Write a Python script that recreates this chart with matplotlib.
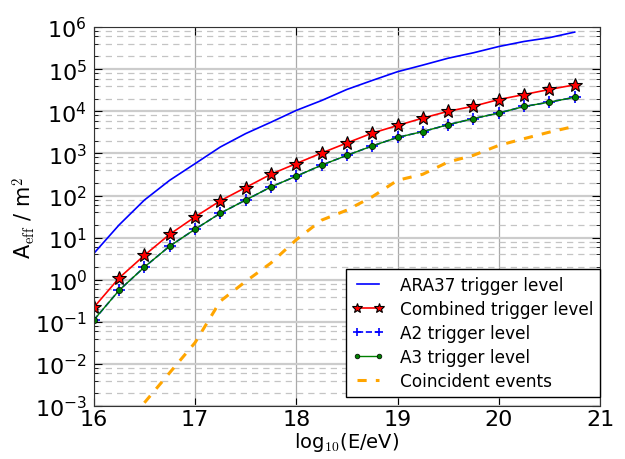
"""
Effective area vs energy, ARA trigger levels
"""
import matplotlib
matplotlib.use("Agg")
import matplotlib.pyplot as plt
from matplotlib.ticker import LogLocator, NullFormatter

plt.rcParams["font.family"] = ["DejaVu Sans"]
plt.rcParams["mathtext.fontset"] = "cm"

# energy bins, log10(E/eV)
log_e = [16.0, 16.25, 16.5, 16.75, 17.0, 17.25, 17.5, 17.75, 18.0, 18.25,
         18.5, 18.75, 19.0, 19.25, 19.5, 19.75, 20.0, 20.25, 20.5, 20.75]

ara37 = [4.2, 20, 78, 230, 570, 1420, 2950, 5500, 10500, 18000,
         33000, 54000, 87000, 125000, 182000, 245000, 345000, 455000, 560000, 760000]
combined = [0.22, 1.1, 3.8, 12, 31, 75, 155, 320, 575, 1020,
            1770, 3030, 4600, 6900, 10000, 13200, 19000, 25000, 33000, 42500]
a2 = [0.11, 0.56, 2.0, 6.3, 15.8, 38, 78, 160, 288, 525,
      900, 1500, 2400, 3300, 4800, 6700, 9100, 13000, 16500, 21500]
a3 = [0.11, 0.56, 2.0, 6.3, 15.8, 38, 78, 160, 288, 525,
      900, 1500, 2400, 3300, 4800, 6700, 9100, 13000, 16500, 21500]

# coincident events start at 16.5
log_e_coinc = [16.5, 16.75, 17.0, 17.25, 17.5, 17.75, 18.0, 18.25, 18.5, 18.75,
               19.0, 19.25, 19.5, 19.75, 20.0, 20.25, 20.5, 20.75]
coincident = [0.0012, 0.0062, 0.032, 0.31, 0.91, 2.5, 8.9, 26, 45, 93,
              230, 320, 625, 900, 1550, 2240, 3200, 4400]

fig = plt.figure(figsize=(6.25, 4.6), dpi=100)
ax = fig.add_axes([0.150, 0.115, 0.810, 0.824])

ax.plot(log_e, ara37, color="blue", lw=1.2, label="ARA37 trigger level")
ax.plot(log_e, combined, color="red", lw=1.2, marker="*", ms=10,
        mfc="red", mec="black", mew=0.8, label="Combined trigger level")
ax.plot(log_e, a2, color="blue", lw=1.2, ls="--", marker="+", ms=8,
        mew=1.2, label="A2 trigger level")
ax.plot(log_e, a3, color="green", lw=1.0, marker="o", ms=4.5,
        mfc="green", mec="black", mew=0.5, label="A3 trigger level")
ax.plot(log_e_coinc, coincident, color="orange", lw=2.2, ls="--",
        dashes=(3, 3), label="Coincident events")

ax.set_yscale("log")
ax.set_xlim(16, 21)
ax.set_ylim(1e-3, 1e6)
ax.set_xticks([16, 17, 18, 19, 20, 21])
ax.yaxis.set_major_locator(LogLocator(base=10, numticks=20))
ax.yaxis.set_minor_locator(LogLocator(base=10, subs=(2, 4, 6, 8), numticks=20))
ax.yaxis.set_minor_formatter(NullFormatter())

ax.grid(True, which="major", axis="x", color="#aaaaaa", lw=0.9, ls="-")
ax.grid(True, which="major", axis="y", color="#cccccc", lw=1.6, ls="-")
ax.grid(True, which="minor", axis="y", color="#c4c4c4", lw=0.9, ls="--",
        dashes=(5, 4))
ax.set_axisbelow(True)

ax.tick_params(which="both", direction="in", top=True, right=True,
               labelsize=16)
ax.tick_params(axis="x", pad=2)
ax.tick_params(axis="y", pad=5)
ax.tick_params(which="major", length=6)
ax.tick_params(which="minor", length=3)
for sp in ax.spines.values():
    sp.set_color("#333333")

ax.set_xlabel(r"log$_{\mathrm{10}}$(E/eV)", fontsize=14, labelpad=1)
ax.set_ylabel(r"A$_{\rm eff}$ / m$^{2}$", fontsize=15, labelpad=-2)

leg = ax.legend(loc="lower right", bbox_to_anchor=(1.0, 0.024),
                borderaxespad=0, fontsize=12.2, fancybox=False,
                framealpha=1, edgecolor="black", handlelength=1.9,
                handletextpad=0.9, labelspacing=0.36, numpoints=2,
                markerscale=0.75, borderpad=0.4)
leg.get_frame().set_linewidth(1.0)

plt.savefig("out.png", dpi=100)
plt.close()
